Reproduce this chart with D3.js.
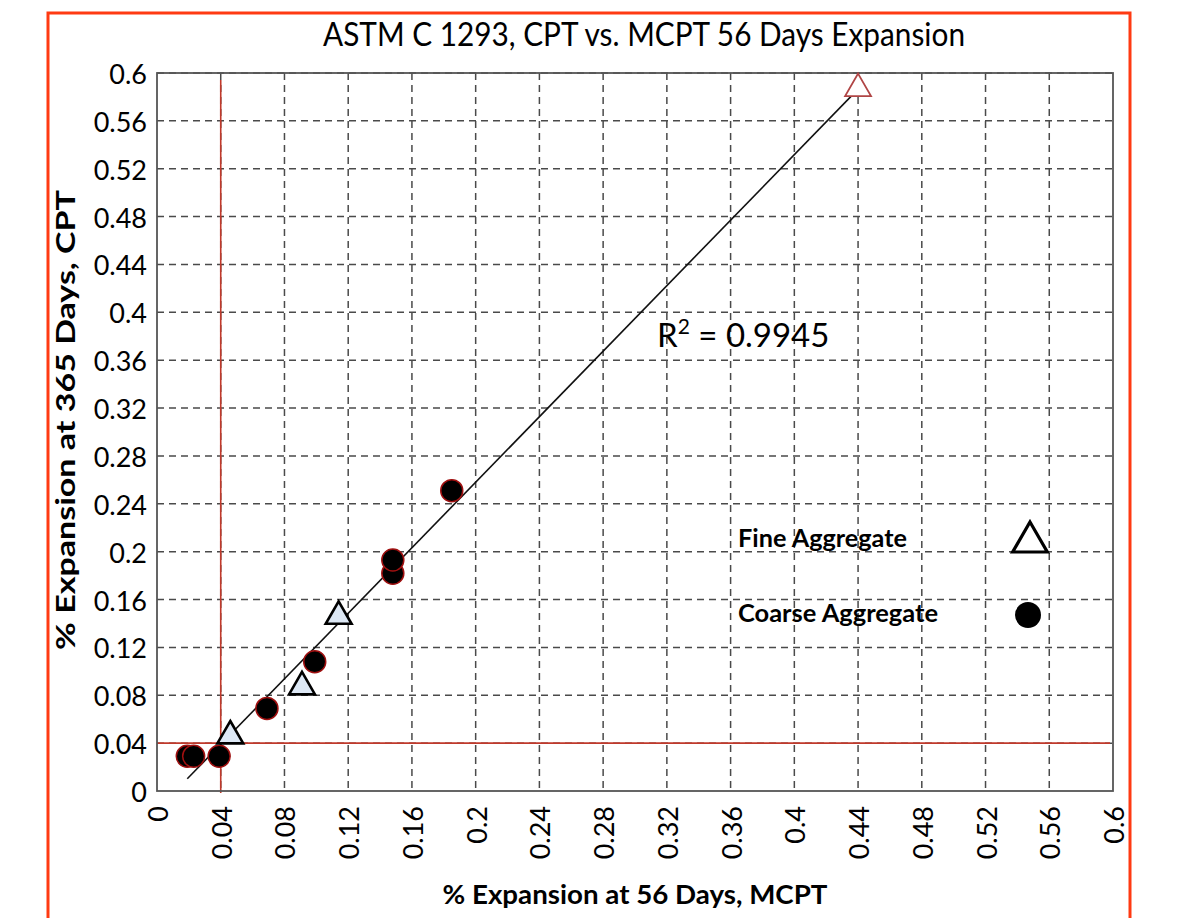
<!DOCTYPE html>
<html>
<head>
<meta charset="utf-8">
<script src="https://cdn.jsdelivr.net/npm/d3@7"></script>
<style>
  body { margin: 0; background: #fff; }
  text { font-family: Lato, "Open Sans", sans-serif; fill: #000; }
</style>
</head>
<body>
<svg id="chart" width="1189" height="918"></svg>
<script>
// values
var tickValues = [0, 0.04, 0.08, 0.12, 0.16, 0.2, 0.24, 0.28, 0.32, 0.36, 0.4, 0.44, 0.48, 0.52, 0.56, 0.6];
var fineX = [0.046, 0.091, 0.114, 0.44];
var fineY = [0.046, 0.087, 0.146, 0.587];
var coarseX = [0.019, 0.023, 0.039, 0.069, 0.099, 0.148, 0.148, 0.185];
var coarseY = [0.029, 0.029, 0.029, 0.069, 0.108, 0.182, 0.193, 0.251];
var limit = 0.04;
var r2Value = "0.9945";

var svg = d3.select("#chart");
var m = {left: 157, right: 1113, top: 73, bottom: 791};

var x = d3.scaleLinear().domain([0, 0.6]).range([m.left, m.right]);
var y = d3.scaleLinear().domain([0, 0.6]).range([m.bottom, m.top]);

// outer red frame
svg.append("rect")
    .attr("x", 48).attr("y", 13)
    .attr("width", 1082).attr("height", 940)
    .attr("fill", "none")
    .attr("stroke", "#ff3a12")
    .attr("stroke-width", 3);

// title
svg.append("text")
    .attr("x", 644).attr("y", 46)
    .attr("text-anchor", "middle")
    .attr("font-size", 33)
    .attr("textLength", 642).attr("lengthAdjust", "spacingAndGlyphs")
    .text("ASTM C 1293, CPT vs. MCPT 56 Days Expansion");

// dashed grid
var grid = svg.append("g")
    .attr("stroke", "#4a4a4a")
    .attr("stroke-width", 1.5)
    .attr("stroke-dasharray", "7,5");

grid.selectAll(".gx").data(tickValues.slice(1, -1)).enter().append("line")
    .attr("x1", function(d){ return x(d); })
    .attr("x2", function(d){ return x(d); })
    .attr("y1", m.top).attr("y2", m.bottom);

grid.selectAll(".gy").data(tickValues.slice(1)).enter().append("line")
    .attr("y1", function(d){ return y(d); })
    .attr("y2", function(d){ return y(d); })
    .attr("x1", m.left).attr("x2", m.right);

// axes, labels only
var xAxis = svg.append("g")
    .attr("transform", "translate(0," + m.bottom + ")")
    .call(d3.axisBottom(x).tickValues(tickValues).tickSize(0).tickFormat(d3.format("")));
xAxis.select(".domain").remove();
xAxis.selectAll("text")
    .attr("font-size", 27)
    .attr("font-family", "Lato, sans-serif")
    .attr("fill", "#000")
    .attr("text-anchor", "end")
    .attr("dy", null)
    .attr("y", 0)
    .attr("dominant-baseline", "central")
    .attr("transform", "translate(0,15) rotate(-90)");

var yAxis = svg.append("g")
    .attr("transform", "translate(" + (m.left - 10) + ",0)")
    .call(d3.axisLeft(y).tickValues(tickValues).tickSize(0).tickFormat(d3.format("")));
yAxis.select(".domain").remove();
yAxis.selectAll("text")
    .attr("font-size", 27)
    .attr("font-family", "Lato, sans-serif")
    .attr("fill", "#000")
    .attr("x", 0)
    .attr("dy", null)
    .attr("dominant-baseline", "central");

// axis titles
svg.append("text")
    .attr("x", 635).attr("y", 904)
    .attr("text-anchor", "middle")
    .attr("font-size", 26).attr("font-weight", "bold")
    .attr("textLength", 385).attr("lengthAdjust", "spacingAndGlyphs")
    .text("% Expansion at 56 Days, MCPT");

svg.append("text")
    .attr("transform", "translate(75,420) rotate(-90)")
    .attr("text-anchor", "middle")
    .attr("font-size", 26).attr("font-weight", "bold")
    .attr("textLength", 460).attr("lengthAdjust", "spacingAndGlyphs")
    .text("% Expansion at 365 Days, CPT");

// red limit lines
svg.append("line")
    .attr("x1", x(limit)).attr("x2", x(limit))
    .attr("y1", 80).attr("y2", m.bottom + 2)
    .attr("stroke", "#c0392b").attr("stroke-width", 1.6);
svg.append("line")
    .attr("x1", m.left).attr("x2", m.right - 3)
    .attr("y1", y(limit)).attr("y2", y(limit))
    .attr("stroke", "#c0392b").attr("stroke-width", 1.6);

// plot border
svg.append("rect")
    .attr("x", m.left).attr("y", m.top)
    .attr("width", m.right - m.left).attr("height", m.bottom - m.top)
    .attr("fill", "none").attr("stroke", "#555").attr("stroke-width", 1.8);

// least squares trendline over all points
var allX = fineX.concat(coarseX), allY = fineY.concat(coarseY);
var mx = d3.mean(allX), my = d3.mean(allY);
var sxy = d3.sum(allX, function(v, i){ return (v - mx) * (allY[i] - my); });
var sxx = d3.sum(allX, function(v){ return (v - mx) * (v - mx); });
var slope = sxy / sxx, icpt = my - slope * mx;
var xr = d3.extent(allX);
svg.append("path")
    .datum(xr)
    .attr("d", d3.line().x(function(d){ return x(d); }).y(function(d){ return y(slope * d + icpt); }))
    .attr("stroke", "#111").attr("stroke-width", 1.6).attr("fill", "none");

var r2 = svg.append("text")
    .attr("x", 657).attr("y", 347)
    .attr("font-size", 33);
r2.append("tspan").text("R");
r2.append("tspan").attr("font-size", 21).attr("dy", -13).text("2");
r2.append("tspan").attr("dy", 13).text(" = " + r2Value);

// coarse aggregate
svg.append("g").selectAll("circle").data(coarseX).enter().append("circle")
    .attr("cx", function(d){ return x(d); })
    .attr("cy", function(d, i){ return y(coarseY[i]); })
    .attr("r", 11)
    .attr("fill", "#000")
    .attr("stroke", "#a01010").attr("stroke-width", 1.5);

// fine aggregate
var tri = d3.symbol().type(d3.symbolTriangle).size(290);
svg.append("g").selectAll("path").data(fineX).enter().append("path")
    .attr("d", tri)
    .attr("transform", function(d, i){ return "translate(" + x(d) + "," + y(fineY[i]) + ")"; })
    .attr("fill", function(d, i){ return i === fineX.length - 1 ? "#fff" : "#dde8f5"; })
    .attr("stroke", function(d, i){ return i === fineX.length - 1 ? "#b04545" : "#000"; })
    .attr("stroke-width", function(d, i){ return i === fineX.length - 1 ? 1.8 : 2.6; });

// legend
svg.append("text")
    .attr("x", 738).attr("y", 547)
    .attr("font-size", 24).attr("font-weight", "bold")
    .attr("textLength", 169).attr("lengthAdjust", "spacingAndGlyphs")
    .text("Fine Aggregate");
svg.append("text")
    .attr("x", 738).attr("y", 622)
    .attr("font-size", 24).attr("font-weight", "bold")
    .attr("textLength", 200).attr("lengthAdjust", "spacingAndGlyphs")
    .text("Coarse Aggregate");
svg.append("path")
    .attr("d", d3.symbol().type(d3.symbolTriangle).size(520))
    .attr("transform", "translate(1030,542)")
    .attr("fill", "#fff").attr("stroke", "#000").attr("stroke-width", 3.2);
svg.append("circle")
    .attr("cx", 1028).attr("cy", 615).attr("r", 13)
    .attr("fill", "#000");
</script>
</body>
</html>
